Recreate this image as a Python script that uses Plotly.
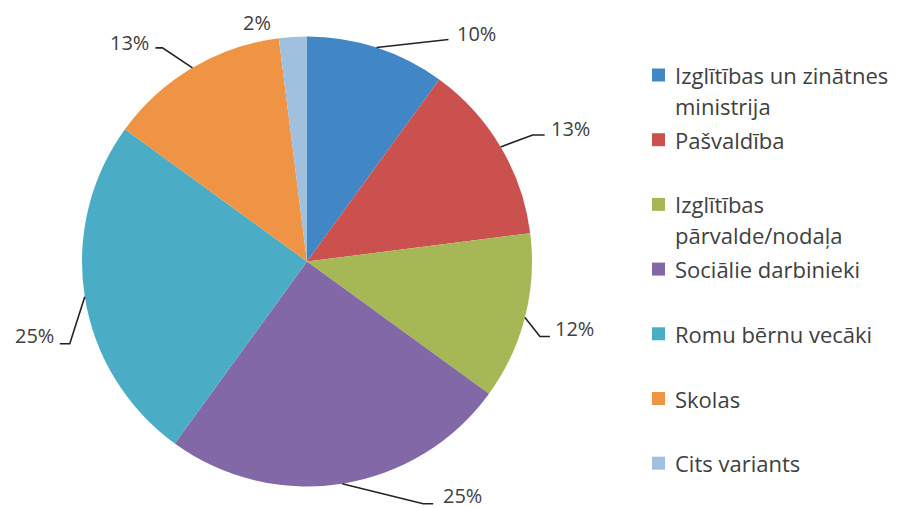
import math
import plotly.graph_objects as go

categories = [
    "Izglītības un zinātnes ministrija",
    "Pašvaldība",
    "Izglītības pārvalde/nodaļa",
    "Sociālie darbinieki",
    "Romu bērnu vecāki",
    "Skolas",
    "Cits variants",
]
# how the legend wraps each category
legend_lines = [
    ["Izglītības un zinātnes", "ministrija"],
    ["Pašvaldība"],
    ["Izglītības", "pārvalde/nodaļa"],
    ["Sociālie darbinieki"],
    ["Romu bērnu vecāki"],
    ["Skolas"],
    ["Cits variants"],
]
shares = [10, 13, 12, 25, 25, 13, 2]
colors = ["#4186C5", "#CB514F", "#A6B856", "#8268A6", "#4AADC5", "#EF9444", "#A0C0E0"]

W, H = 898, 508
BODY = 8  # page body margin that shifts the plot div
cx, cy, r = 307, 261.5, 225

# leader line offsets from the slice edge (elbow, end, label), pixels
leader = [
    ((72, -8), (72, -8), (78, -14), "left"),
    ((32, -12), (44, -12), (48, -18), "left"),
    ((15, 19), (25, 19), (28, 11), "left"),
    ((81, 20), (91, 20), (99, 12), "left"),
    ((-15, 47), (-25, 47), (-29, 39), "right"),
    ((-30, -20), (-37, -20), (-41, -25), "right"),
    (None, None, (-36, -14), "center"),
]


def px(x, y):
    return (x - BODY) / W, 1 - (y - BODY) / H


fig = go.Figure()
d0 = px(cx - r, cy + r)
d1 = px(cx + r, cy - r)
fig.add_trace(go.Pie(
    labels=categories,
    values=shares,
    marker=dict(colors=colors, line=dict(width=0)),
    sort=False,
    direction="clockwise",
    rotation=0,
    textinfo="none",
    hoverinfo="label+percent",
    domain=dict(x=[d0[0], d1[0]], y=[d0[1], d1[1]]),
    showlegend=False,
))

total = sum(shares)
cum = 0
shapes = []
annotations = []
for v, (elbow, end, lab, anchor) in zip(shares, leader):
    mid = (cum + v / 2) / total * 2 * math.pi
    cum += v
    ex = cx + r * math.sin(mid)
    ey = cy - r * math.cos(mid)
    if elbow is not None:
        p0 = px(ex, ey)
        p1 = px(ex + elbow[0], ey + elbow[1])
        p2 = px(ex + end[0], ey + end[1])
        shapes.append(dict(
            type="path", xref="paper", yref="paper",
            path="M {} {} L {} {} L {} {}".format(p0[0], p0[1], p1[0], p1[1], p2[0], p2[1]),
            line=dict(color="#222222", width=1.6),
        ))
    lx, ly = px(ex + lab[0], ey + lab[1])
    annotations.append(dict(
        x=lx, y=ly, xref="paper", yref="paper",
        text="{}%".format(v), showarrow=False,
        xanchor=anchor, yanchor="middle",
        font=dict(family="Open Sans", size=20, color="#404040"),
    ))

# legend drawn by hand so the entries keep Excel's even spacing
leg_x, leg_y0, leg_step, line_h, box = 658.5, 75, 64.7, 31, 13
for i, (lines, c) in enumerate(zip(legend_lines, colors)):
    ym = leg_y0 + i * leg_step
    a = px(leg_x - box / 2, ym - box / 2)
    b = px(leg_x + box / 2, ym + box / 2)
    shapes.append(dict(
        type="rect", xref="paper", yref="paper",
        x0=a[0], y0=a[1], x1=b[0], y1=b[1],
        fillcolor=c, line=dict(width=0),
    ))
    for k, t in enumerate(lines):
        tx, ty = px(leg_x + 14, ym + k * line_h)
        annotations.append(dict(
            x=tx, y=ty, xref="paper", yref="paper",
            text=t, showarrow=False,
            xanchor="left", yanchor="middle",
            font=dict(family="Open Sans", size=22, color="#404040"),
        ))

fig.update_layout(
    width=W,
    height=H,
    autosize=False,
    margin=dict(l=0, r=0, t=0, b=0),
    paper_bgcolor="white",
    plot_bgcolor="white",
    showlegend=False,
    shapes=shapes,
    annotations=annotations,
)

fig.write_html("out.html")
